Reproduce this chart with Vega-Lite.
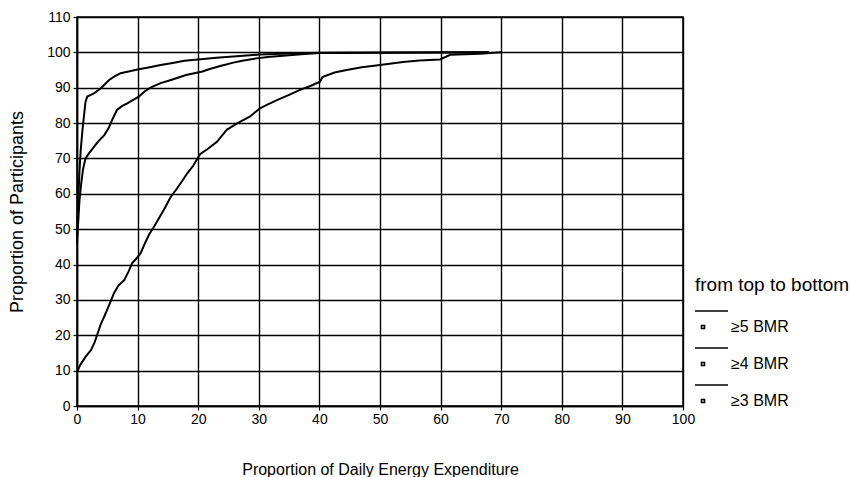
{
  "$schema": "https://vega.github.io/schema/vega-lite/v6.json",
  "autosize": {"type": "none"},
  "padding": {"left": 77, "top": 17, "right": 167, "bottom": 71},
  "width": 606,
  "height": 389,
  "background": "white",
  "config": {
    "font": "Liberation Sans",
    "view": {"stroke": "black", "strokeWidth": 1.5},
    "axis": {"gridColor": "black", "gridWidth": 1.4, "gridOpacity": 1, "domainColor": "black", "domainWidth": 1.5, "tickColor": "black", "tickSize": 4, "tickWidth": 1.2, "labelColor": "black", "titleColor": "black", "labelFontSize": 14, "labelFont": "Liberation Sans", "titleFont": "Liberation Sans", "titleFontWeight": "normal"}
  },
  "data": {"values": [
    {"series": "≥5 BMR", "x": 0, "y": 48}, {"series": "≥5 BMR", "x": 0.2, "y": 58}, {"series": "≥5 BMR", "x": 0.4, "y": 66}, {"series": "≥5 BMR", "x": 0.6, "y": 72}, {"series": "≥5 BMR", "x": 0.9, "y": 78}, {"series": "≥5 BMR", "x": 1.15, "y": 82}, {"series": "≥5 BMR", "x": 1.4, "y": 86}, {"series": "≥5 BMR", "x": 1.7, "y": 87.5}, {"series": "≥5 BMR", "x": 2.8, "y": 88.4}, {"series": "≥5 BMR", "x": 3.9, "y": 89.8}, {"series": "≥5 BMR", "x": 4.6, "y": 91}, {"series": "≥5 BMR", "x": 5.3, "y": 92.2}, {"series": "≥5 BMR", "x": 6.2, "y": 93.2}, {"series": "≥5 BMR", "x": 7.2, "y": 94.1}, {"series": "≥5 BMR", "x": 8.5, "y": 94.6}, {"series": "≥5 BMR", "x": 10.2, "y": 95.2}, {"series": "≥5 BMR", "x": 12, "y": 95.8}, {"series": "≥5 BMR", "x": 13.8, "y": 96.4}, {"series": "≥5 BMR", "x": 15.8, "y": 97}, {"series": "≥5 BMR", "x": 17.7, "y": 97.6}, {"series": "≥5 BMR", "x": 20, "y": 98}, {"series": "≥5 BMR", "x": 23, "y": 98.5}, {"series": "≥5 BMR", "x": 26.9, "y": 99}, {"series": "≥5 BMR", "x": 30.2, "y": 99.4}, {"series": "≥5 BMR", "x": 35, "y": 99.7}, {"series": "≥5 BMR", "x": 40, "y": 99.9}, {"series": "≥5 BMR", "x": 68, "y": 100},
    {"series": "≥4 BMR", "x": 0, "y": 46}, {"series": "≥4 BMR", "x": 0.2, "y": 52}, {"series": "≥4 BMR", "x": 0.4, "y": 58}, {"series": "≥4 BMR", "x": 0.7, "y": 63}, {"series": "≥4 BMR", "x": 1, "y": 67}, {"series": "≥4 BMR", "x": 1.4, "y": 70}, {"series": "≥4 BMR", "x": 2, "y": 71.5}, {"series": "≥4 BMR", "x": 2.8, "y": 73.3}, {"series": "≥4 BMR", "x": 3.6, "y": 75}, {"series": "≥4 BMR", "x": 4.5, "y": 76.6}, {"series": "≥4 BMR", "x": 5.2, "y": 78.5}, {"series": "≥4 BMR", "x": 5.8, "y": 80.9}, {"series": "≥4 BMR", "x": 6.6, "y": 83.7}, {"series": "≥4 BMR", "x": 7.4, "y": 84.8}, {"series": "≥4 BMR", "x": 8.3, "y": 85.6}, {"series": "≥4 BMR", "x": 9.2, "y": 86.5}, {"series": "≥4 BMR", "x": 10.2, "y": 87.5}, {"series": "≥4 BMR", "x": 11.2, "y": 89}, {"series": "≥4 BMR", "x": 12.2, "y": 90.1}, {"series": "≥4 BMR", "x": 13.8, "y": 91.3}, {"series": "≥4 BMR", "x": 15.5, "y": 92.2}, {"series": "≥4 BMR", "x": 18, "y": 93.6}, {"series": "≥4 BMR", "x": 20.7, "y": 94.6}, {"series": "≥4 BMR", "x": 21.9, "y": 95.3}, {"series": "≥4 BMR", "x": 23.8, "y": 96.2}, {"series": "≥4 BMR", "x": 25.8, "y": 97.1}, {"series": "≥4 BMR", "x": 27.5, "y": 97.7}, {"series": "≥4 BMR", "x": 29.6, "y": 98.3}, {"series": "≥4 BMR", "x": 31.5, "y": 98.7}, {"series": "≥4 BMR", "x": 33.5, "y": 99}, {"series": "≥4 BMR", "x": 37, "y": 99.5}, {"series": "≥4 BMR", "x": 40, "y": 99.8}, {"series": "≥4 BMR", "x": 68, "y": 100},
    {"series": "≥3 BMR", "x": 0, "y": 9.5}, {"series": "≥3 BMR", "x": 0.5, "y": 11.5}, {"series": "≥3 BMR", "x": 1.4, "y": 13.9}, {"series": "≥3 BMR", "x": 2.3, "y": 15.8}, {"series": "≥3 BMR", "x": 2.9, "y": 18}, {"series": "≥3 BMR", "x": 3.4, "y": 20.5}, {"series": "≥3 BMR", "x": 3.9, "y": 23}, {"series": "≥3 BMR", "x": 4.5, "y": 25.3}, {"series": "≥3 BMR", "x": 5.3, "y": 28.5}, {"series": "≥3 BMR", "x": 6.1, "y": 31.9}, {"series": "≥3 BMR", "x": 6.8, "y": 34}, {"series": "≥3 BMR", "x": 7.8, "y": 35.6}, {"series": "≥3 BMR", "x": 8.5, "y": 38}, {"series": "≥3 BMR", "x": 9.1, "y": 40.4}, {"series": "≥3 BMR", "x": 9.7, "y": 41.5}, {"series": "≥3 BMR", "x": 10.5, "y": 43.2}, {"series": "≥3 BMR", "x": 11.2, "y": 46}, {"series": "≥3 BMR", "x": 11.9, "y": 48.5}, {"series": "≥3 BMR", "x": 12.7, "y": 50.7}, {"series": "≥3 BMR", "x": 13.5, "y": 53}, {"series": "≥3 BMR", "x": 14.5, "y": 56}, {"series": "≥3 BMR", "x": 15.5, "y": 59.2}, {"series": "≥3 BMR", "x": 16.5, "y": 61.5}, {"series": "≥3 BMR", "x": 17.3, "y": 63.5}, {"series": "≥3 BMR", "x": 18.2, "y": 65.8}, {"series": "≥3 BMR", "x": 19.2, "y": 68}, {"series": "≥3 BMR", "x": 20.3, "y": 71.2}, {"series": "≥3 BMR", "x": 21.5, "y": 72.6}, {"series": "≥3 BMR", "x": 23.1, "y": 74.7}, {"series": "≥3 BMR", "x": 24.7, "y": 78.1}, {"series": "≥3 BMR", "x": 26.5, "y": 80}, {"series": "≥3 BMR", "x": 28.5, "y": 81.8}, {"series": "≥3 BMR", "x": 30.2, "y": 84.2}, {"series": "≥3 BMR", "x": 31.5, "y": 85.3}, {"series": "≥3 BMR", "x": 33, "y": 86.5}, {"series": "≥3 BMR", "x": 35, "y": 88}, {"series": "≥3 BMR", "x": 36.8, "y": 89.4}, {"series": "≥3 BMR", "x": 38.5, "y": 90.5}, {"series": "≥3 BMR", "x": 40.1, "y": 91.7}, {"series": "≥3 BMR", "x": 40.5, "y": 93}, {"series": "≥3 BMR", "x": 42.5, "y": 94.3}, {"series": "≥3 BMR", "x": 44.5, "y": 95}, {"series": "≥3 BMR", "x": 47, "y": 95.8}, {"series": "≥3 BMR", "x": 50, "y": 96.4}, {"series": "≥3 BMR", "x": 53.8, "y": 97.3}, {"series": "≥3 BMR", "x": 56.5, "y": 97.7}, {"series": "≥3 BMR", "x": 59.9, "y": 98}, {"series": "≥3 BMR", "x": 61.6, "y": 99.3}, {"series": "≥3 BMR", "x": 64, "y": 99.5}, {"series": "≥3 BMR", "x": 66.5, "y": 99.6}, {"series": "≥3 BMR", "x": 70, "y": 100}
  ]},
  "mark": {"type": "line", "strokeWidth": 2, "interpolate": "linear"},
  "encoding": {
    "x": {"field": "x", "type": "quantitative", "scale": {"domain": [0, 100], "nice": false},
      "axis": {"values": [0, 10, 20, 30, 40, 50, 60, 70, 80, 90, 100], "title": "Proportion of Daily Energy Expenditure", "titleFontSize": 16, "titlePadding": 35, "labelPadding": 2, "labelFlush": false}},
    "y": {"field": "y", "type": "quantitative", "scale": {"domain": [0, 110], "nice": false},
      "axis": {"values": [0, 10, 20, 30, 40, 50, 60, 70, 80, 90, 100, 110], "title": "Proportion of Participants", "titleFontSize": 18, "titlePadding": 20, "labelPadding": 3, "labelFlush": false}},
    "color": {"field": "series", "type": "nominal",
      "scale": {"domain": ["≥5 BMR", "≥4 BMR", "≥3 BMR"], "range": ["black", "black", "black"]},
      "legend": {"orient": "none", "legendX": 618, "legendY": 259, "title": "from top to bottom", "titleFontSize": 19, "titleFontWeight": "normal", "titleColor": "black", "titlePadding": 24, "labelFontSize": 16, "labelColor": "black", "labelOffset": 20, "rowPadding": 9, "symbolSize": 100, "symbolType": "M-1.6,-3.2H5M-0.3,-0.3H0.3V0.3H-0.3Z", "symbolStrokeWidth": 1.6, "symbolStrokeColor": "black", "symbolFillColor": "transparent"}}
  }
}
